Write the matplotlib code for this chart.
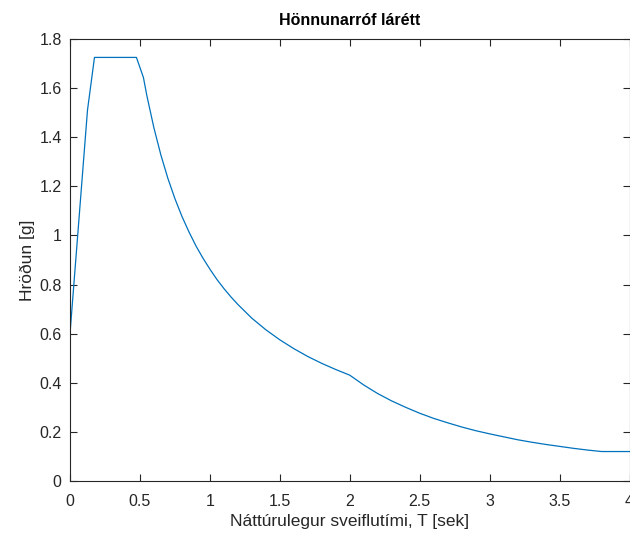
import numpy as np
import matplotlib.pyplot as plt
from matplotlib.ticker import FuncFormatter

# response spectrum
T = [0, 0.125, 0.175, 0.475, 0.525, 0.55, 0.6, 0.65, 0.7, 0.75, 0.8, 0.85, 0.9, 0.95,
     1.0, 1.05, 1.1, 1.15, 1.2, 1.3, 1.4, 1.5, 1.6, 1.7, 1.8, 1.9, 2.0,
     2.1, 2.2, 2.3, 2.4, 2.5, 2.6, 2.7, 2.8, 2.9, 3.0, 3.1, 3.2, 3.3, 3.4,
     3.5, 3.6, 3.7, 3.8, 4.0]
Sa = [0.60, 1.51, 1.725, 1.725, 1.643, 1.568, 1.438, 1.327, 1.232, 1.150, 1.078, 1.015, 0.958, 0.908,
      0.863, 0.821, 0.784, 0.750, 0.719, 0.663, 0.616, 0.575, 0.539, 0.507, 0.479, 0.454, 0.431,
      0.391, 0.356, 0.326, 0.300, 0.276, 0.255, 0.237, 0.220, 0.205, 0.192, 0.180, 0.168, 0.158, 0.149,
      0.141, 0.133, 0.126, 0.120, 0.120]

xticks = [0, 0.5, 1, 1.5, 2, 2.5, 3, 3.5, 4]
yticks = [0, 0.2, 0.4, 0.6, 0.8, 1.0, 1.2, 1.4, 1.6, 1.8]

plt.rcParams['font.family'] = ['Liberation Sans', 'DejaVu Sans']

fig = plt.figure(figsize=(6.3, 5.33), dpi=100)
ax = fig.add_axes([70 / 630, 1 - 481 / 533, 559.5 / 630, 442 / 533])

ax.plot(T, Sa, color='#0072BD', lw=0.9)

ax.set_xlim(0, 4)
ax.set_ylim(0, 1.8)
ax.set_xticks(xticks)
ax.set_yticks(yticks)
fmt = FuncFormatter(lambda v, p: f'{v:g}')
ax.xaxis.set_major_formatter(fmt)
ax.yaxis.set_major_formatter(fmt)

dark = '#262626'
for s in ax.spines.values():
    s.set_color(dark)
    s.set_linewidth(0.8)
ax.tick_params(direction='in', length=5, width=0.8, colors=dark, labelsize=11.5,
               top=True, right=True, pad=6)
ax.tick_params(axis='x', pad=9)

ax.set_title('Hönnunarróf lárétt', fontsize=11.5, fontweight='bold', color='black', pad=10)
ax.set_xlabel('Náttúrulegur sveiflutími, T [sek]', fontsize=12.5, color=dark, labelpad=4)
ax.set_ylabel('Hröðun [g]', fontsize=12.5, color=dark, labelpad=3)

fig.savefig('out.png', dpi=100)
